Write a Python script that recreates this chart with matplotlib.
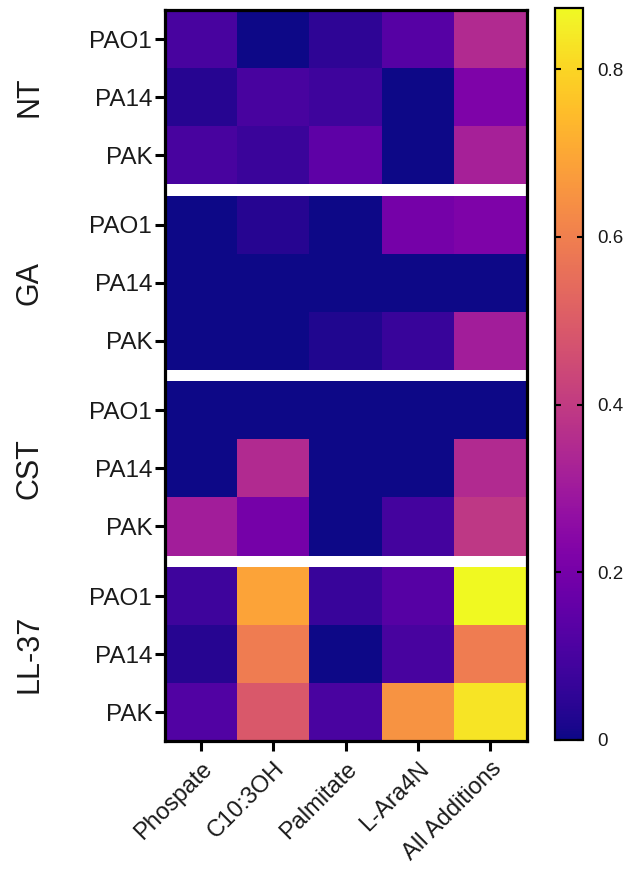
import numpy as np
import matplotlib.pyplot as plt
from matplotlib import rcParams
from matplotlib.transforms import blended_transform_factory

rcParams["font.family"] = ["Liberation Sans", "DejaVu Sans"]

groups = ["NT", "GA", "CST", "LL-37"]
strains = ["PAO1", "PA14", "PAK"]
additions = ["Phospate", "C10:3OH", "Palmitate", "L-Ara4N", "All Additions"]

nt = [[0.10, 0.00, 0.05, 0.13, 0.35],
      [0.035, 0.10, 0.08, 0.00, 0.22],
      [0.10, 0.075, 0.15, 0.00, 0.32]]
ga = [[0.00, 0.035, 0.00, 0.20, 0.22],
      [0.00, 0.00, 0.00, 0.00, 0.00],
      [0.00, 0.00, 0.025, 0.07, 0.31]]
cst = [[0.00, 0.00, 0.00, 0.00, 0.00],
       [0.00, 0.35, 0.00, 0.00, 0.35],
       [0.31, 0.20, 0.00, 0.095, 0.39]]
ll37 = [[0.08, 0.69, 0.07, 0.13, 0.87],
        [0.035, 0.59, 0.00, 0.10, 0.59],
        [0.12, 0.49, 0.105, 0.65, 0.83]]

vmax = 0.873
gap = 0.2

# stack blocks with a masked gap row between groups
blocks = [nt, ga, cst, ll37]
rows = []
heights = []
for i, b in enumerate(blocks):
    for r in b:
        rows.append(r)
        heights.append(1.0)
    if i < len(blocks) - 1:
        rows.append([np.nan] * len(additions))
        heights.append(gap)
data = np.ma.masked_invalid(np.array(rows, dtype=float))
y_edges = np.concatenate([[0], np.cumsum(heights)])
x_edges = np.arange(len(additions) + 1)

fig = plt.figure(figsize=(6.36, 8.72), dpi=100)
ax = fig.add_axes([0.259, 0.150, 0.569, 0.8385])
cax = fig.add_axes([0.873, 0.1514, 0.044, 0.8394])

mesh = ax.pcolormesh(x_edges, y_edges, data, cmap="plasma", vmin=0, vmax=vmax)
ax.set_xlim(0, len(additions))
ax.set_ylim(y_edges[-1], 0)

# y ticks at row centres
centers = (y_edges[:-1] + y_edges[1:]) / 2
tick_pos = [c for c, h in zip(centers, heights) if h == 1.0]
ax.set_yticks(tick_pos)
ax.set_yticklabels(strains * len(groups), fontsize=17.5, color="#1a1a1a")
ax.set_xticks(np.arange(len(additions)) + 0.5)
ax.set_xticklabels(additions, rotation=45, ha="right", rotation_mode="anchor",
                   fontsize=17, color="#1a1a1a")
ax.tick_params(axis="both", length=7, width=2.2, color="black", pad=2)
ax.tick_params(axis="x", pad=5)
for s in ax.spines.values():
    s.set_linewidth(2.3)

trans = blended_transform_factory(ax.transAxes, ax.transData)
for g, name in enumerate(groups):
    yc = np.mean(tick_pos[g * 3:(g + 1) * 3])
    ax.text(-0.373, yc, name, transform=trans, rotation=90, ha="center", va="center",
            fontsize=22, color="#1a1a1a")

cb = fig.colorbar(mesh, cax=cax)
cb.set_ticks([0, 0.2, 0.4, 0.6, 0.8])
cb.set_ticklabels(["0", "0.2", "0.4", "0.6", "0.8"])
cb.outline.set_linewidth(1.6)
cax.tick_params(labelsize=13.5, length=4, width=1.5, direction="in", left=True, right=True,
                pad=10, labelcolor="#1a1a1a")

fig.savefig("out.png", dpi=100)
